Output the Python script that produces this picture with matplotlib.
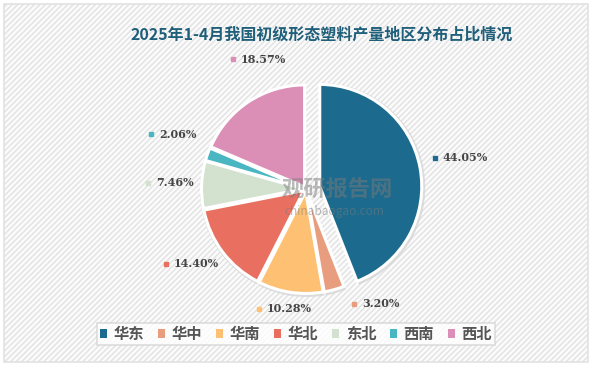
import numpy as np
import matplotlib.pyplot as plt
from matplotlib.patches import Rectangle, Wedge

# data
regions = ['华东', '华中', '华南', '华北', '东北', '西南', '西北']
shares = [44.05, 3.20, 10.28, 14.40, 7.46, 2.06, 18.57]
colors = ['#1c6b8e', '#e89e7e', '#fec173', '#e97060', '#d3e1cf', '#4ab6c2', '#dc8fb6']
title = '2025年1-4月我国初级形态塑料产量地区分布占比情况'

plt.rcParams['font.family'] = ['Noto Sans CJK SC', 'DejaVu Sans']
plt.rcParams['hatch.color'] = '#f0f0f0'

fig = plt.figure(figsize=(5.92, 3.66), dpi=100)
fig.patch.set_facecolor('white')
ax = fig.add_axes([0, 0, 1, 1])

# striped background + border
bg = Rectangle((4, 4), 584, 358, facecolor='#fbfbfb', edgecolor='#e2e2e2',
               hatch='//////', linewidth=1.2, zorder=0)
ax.add_patch(bg)

cx, cy, r = 306, 177, 102
explode = [14 / r] + [2.5 / r] * (len(shares) - 1)
wedges, _ = ax.pie(shares, colors=colors, startangle=90, counterclock=False,
                   center=(cx, cy), radius=r, explode=[e * r for e in explode],
                   wedgeprops=dict(edgecolor='white', linewidth=2.2),
                   frame=True)
for w in wedges:
    w.set_zorder(3)
# soft shadow behind the pie
for w in wedges:
    sh = Wedge((w.center[0] + 1, w.center[1] - 1), w.r + 2.5, w.theta1, w.theta2,
               facecolor='#d6d6d6', edgecolor='none', zorder=2, alpha=0.8)
    ax.add_patch(sh)
ax.set_xlim(0, 592)
ax.set_ylim(0, 366)
ax.set_aspect('equal')
ax.axis('off')

# labels (radius factor and small angle shift per slice)
label_r = [1.30, 1.22, 1.26, 1.56, 1.55, 1.61, 1.46]
label_da = [3, 7, -13, -9, 0, 0, -4]
total = sum(shares)
ang = 90.0
for i, v in enumerate(shares):
    mid = ang - v / total * 360 / 2
    ang -= v / total * 360
    t = np.deg2rad(mid + label_da[i])
    lx = cx + r * label_r[i] * np.cos(t)
    ly = cy + r * label_r[i] * np.sin(t)
    ax.plot(lx, ly, marker='s', markersize=2.6, color=colors[i], zorder=5)
    ax.text(lx + 8, ly, f'{v:.2f}%', fontsize=8, fontweight='bold', family='DejaVu Serif',
            color='#444444', va='center', ha='left', zorder=5)

# watermark
ax.text(337, 176, '观研报告网', fontsize=16, fontweight='bold', color='#7a7a7a',
        alpha=0.5, ha='center', va='center', zorder=6)
ax.text(334, 155, 'chinabaogao.com', fontsize=8.5, color='#7a7a7a', alpha=0.5,
        ha='center', va='center', zorder=6)

ax.text(322, 331, title, fontsize=11.5, fontweight='bold', color='#1f5f7a',
        ha='center', va='center', zorder=6)

leg = ax.legend(wedges, regions, loc='center', bbox_to_anchor=(296 / 592, 32 / 366),
                ncol=7, frameon=True, fontsize=11, handlelength=0.45, handleheight=0.45,
                columnspacing=0.9, handletextpad=0.45, borderpad=0.2, fancybox=False,
                labelcolor='#555555')
leg.get_frame().set_edgecolor('#d5d5d5')
leg.get_frame().set_linewidth(1.2)
leg.get_frame().set_facecolor('white')
for h in leg.legend_handles:
    h.set_edgecolor('none')
for t in leg.get_texts():
    t.set_fontweight('bold')

fig.savefig('out.png', dpi=100)
